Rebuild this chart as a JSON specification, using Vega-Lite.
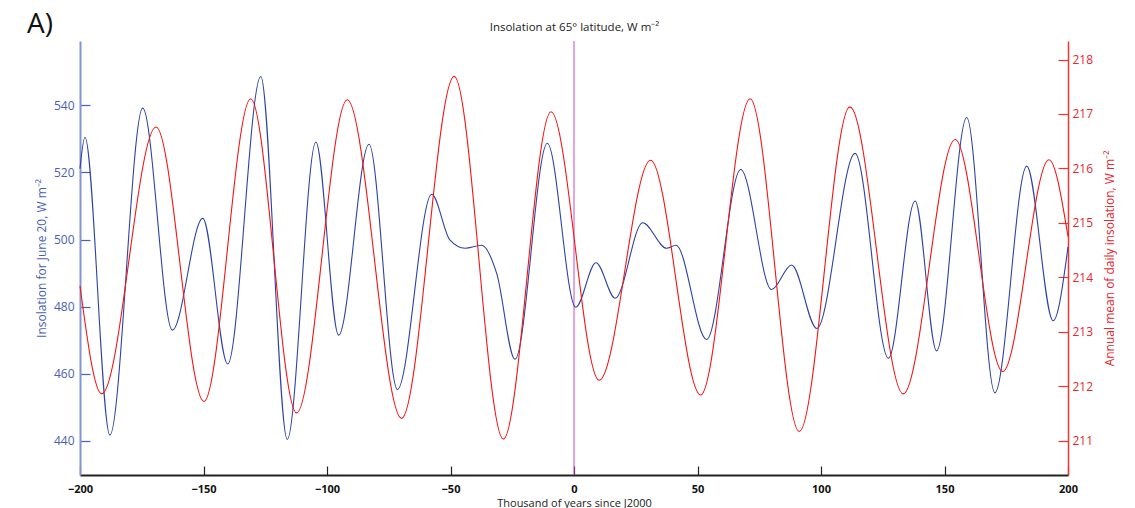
{
  "$schema": "https://vega.github.io/schema/vega-lite/v6.json",
  "width": 988,
  "height": 434,
  "autosize": "none",
  "padding": {"left": 80, "top": 41, "right": 67, "bottom": 33},
  "background": "white",
  "config": {"view": {"stroke": null}, "font": "Open Sans"},
  "title": {
    "text": "A)",
    "anchor": "start",
    "frame": "group",
    "fontSize": 28,
    "fontWeight": "normal",
    "color": "#111111",
    "baseline": "alphabetic",
    "offset": 0,
    "dx": -53,
    "dy": 40
  },
  "datasets": {
    "june": [
      {"t": -200, "v": 521.2}, {"t": -198.0, "v": 530.5}, {"t": -187.9, "v": 441.7},
      {"t": -174.6, "v": 539.2}, {"t": -162.6, "v": 473.0}, {"t": -150.3, "v": 506.3},
      {"t": -140.2, "v": 462.9}, {"t": -126.8, "v": 548.6}, {"t": -116.1, "v": 440.4},
      {"t": -104.5, "v": 529.1}, {"t": -95.3, "v": 471.5}, {"t": -83.0, "v": 528.4},
      {"t": -71.5, "v": 455.3}, {"t": -57.6, "v": 513.5}, {"t": -50.2, "v": 499.8},
      {"t": -44.1, "v": 497.4}, {"t": -37.4, "v": 498.3}, {"t": -31.3, "v": 489.9},
      {"t": -23.9, "v": 464.3}, {"t": -10.8, "v": 528.7}, {"t": 0.7, "v": 479.8},
      {"t": 8.9, "v": 493.1}, {"t": 16.7, "v": 482.5}, {"t": 27.8, "v": 505.0},
      {"t": 37.5, "v": 497.4}, {"t": 41.3, "v": 498.3}, {"t": 53.7, "v": 470.2},
      {"t": 67.5, "v": 520.9}, {"t": 80.0, "v": 485.1}, {"t": 88.1, "v": 492.4},
      {"t": 98.3, "v": 473.5}, {"t": 113.8, "v": 525.7}, {"t": 127.3, "v": 464.6},
      {"t": 138.1, "v": 511.5}, {"t": 146.8, "v": 466.8}, {"t": 159.0, "v": 536.4},
      {"t": 170.4, "v": 454.3}, {"t": 183.3, "v": 521.9}, {"t": 194.0, "v": 475.8},
      {"t": 200, "v": 497.8}
    ],
    "annual": [
      {"t": -200, "r": 213.84}, {"t": -191.2, "r": 211.86}, {"t": -169.2, "r": 216.76},
      {"t": -149.8, "r": 211.72}, {"t": -130.9, "r": 217.28}, {"t": -112.3, "r": 211.51},
      {"t": -91.8, "r": 217.26}, {"t": -69.8, "r": 211.41}, {"t": -48.5, "r": 217.69},
      {"t": -28.6, "r": 211.03}, {"t": -9.3, "r": 217.04}, {"t": 10.2, "r": 212.11},
      {"t": 31.0, "r": 216.15}, {"t": 51.3, "r": 211.84}, {"t": 71.3, "r": 217.28},
      {"t": 91.2, "r": 211.17}, {"t": 111.7, "r": 217.13}, {"t": 133.3, "r": 211.86},
      {"t": 154.3, "r": 216.53}, {"t": 173.6, "r": 212.27}, {"t": 192.3, "r": 216.16},
      {"t": 200, "r": 214.75}
    ],
    "zero": [{"t": 0}]
  },
  "layer": [
    {
      "data": {"name": "zero"},
      "mark": {"type": "rule", "color": "#c84dbf", "strokeWidth": 1},
      "encoding": {
        "x": {
          "field": "t", "type": "quantitative",
          "scale": {"domain": [-200, 200], "nice": false, "zero": false},
          "axis": {
            "orient": "top", "domain": false, "ticks": false, "labels": false, "grid": false,
            "title": "Insolation at 65° latitude, W m⁻²",
            "titleFontSize": 11.5, "titleFontWeight": "normal", "titleColor": "#222222",
            "titleAlign": "center", "titleBaseline": "alphabetic",
            "titleX": 494, "titleY": -11
          }
        }
      }
    },
    {
      "data": {"name": "june"},
      "mark": {"type": "line", "color": "#2e43a1", "strokeWidth": 1.1, "interpolate": "monotone"},
      "encoding": {
        "x": {
          "field": "t", "type": "quantitative",
          "scale": {"domain": [-200, 200], "nice": false, "zero": false},
          "axis": {
            "orient": "bottom", "values": [-200, -150, -100, -50, 0, 50, 100, 150, 200],
            "grid": false, "domainColor": "#222222", "domainWidth": 2,
            "tickColor": "#222222", "tickSize": -9, "tickWidth": 1.2,
            "labelFlush": false,
            "labelFontSize": 11, "labelFontWeight": "bold", "labelColor": "#111111", "labelPadding": 17,
            "title": "Thousand of years since J2000", "titleFontSize": 11, "titleFontWeight": "normal",
            "titleColor": "#222222", "titlePadding": 3
          }
        },
        "y": {
          "field": "v", "type": "quantitative",
          "scale": {"domain": [429.8, 559.2], "nice": false, "zero": false},
          "axis": {
            "orient": "left", "values": [440, 460, 480, 500, 520, 540], "grid": false,
            "labelFlush": false,
            "domainColor": "#8194d4", "domainWidth": 2,
            "tickColor": "#4a5fb3", "tickSize": -10, "tickWidth": 1.2,
            "labelFontSize": 12, "labelColor": "#4a5fb3", "labelPadding": 16,
            "title": "Insolation for June 20, W m⁻²", "titleFontSize": 12, "titleFontWeight": "normal",
            "titleColor": "#4a5fb3", "titlePadding": 5
          }
        }
      }
    },
    {
      "data": {"name": "annual"},
      "mark": {"type": "line", "color": "#f21515", "strokeWidth": 1.1, "interpolate": "monotone"},
      "encoding": {
        "x": {
          "field": "t", "type": "quantitative",
          "scale": {"domain": [-200, 200], "nice": false, "zero": false},
          "axis": null
        },
        "y": {
          "field": "r", "type": "quantitative",
          "scale": {"domain": [210.37, 218.34], "nice": false, "zero": false},
          "axis": {
            "orient": "right", "values": [211, 212, 213, 214, 215, 216, 217, 218], "grid": false,
            "labelFlush": false,
            "domainColor": "#ee3535", "domainWidth": 1.5,
            "tickColor": "#ee3535", "tickSize": -10, "tickWidth": 1.2,
            "labelFontSize": 12, "labelColor": "#e8262e", "labelPadding": 14,
            "title": "Annual mean of daily insolation, W m⁻²", "titleFontSize": 12, "titleFontWeight": "normal",
            "titleColor": "#e8262e", "titlePadding": 12, "titleAngle": 270, "titleBaseline": "top"
          }
        }
      }
    }
  ],
  "resolve": {"scale": {"y": "independent"}, "axis": {"y": "independent", "x": "independent"}}
}
